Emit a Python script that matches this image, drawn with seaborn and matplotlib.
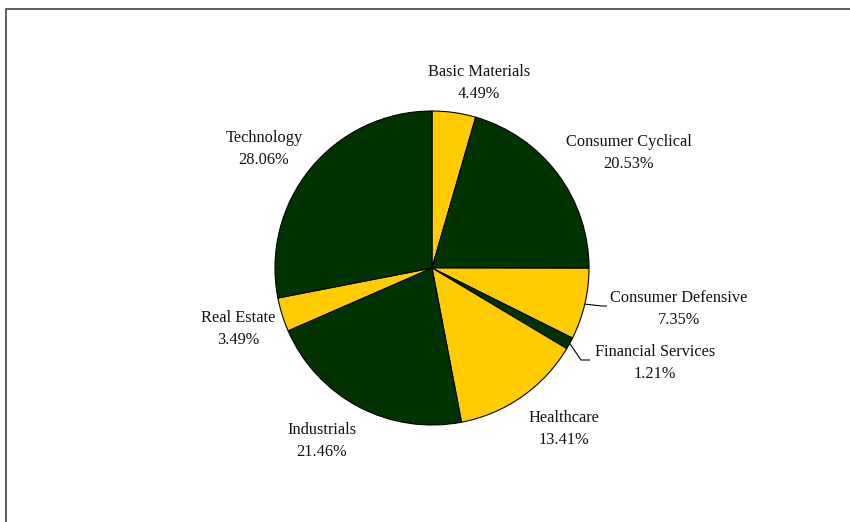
import matplotlib
matplotlib.use("Agg")
import matplotlib.pyplot as plt
import numpy as np
import seaborn as sns
from matplotlib.patches import Rectangle

# Sector weights (percent), clockwise from 12 o'clock
sectors = ["Basic Materials", "Consumer Cyclical", "Consumer Defensive",
           "Financial Services", "Healthcare", "Industrials",
           "Real Estate", "Technology"]
weights = [4.49, 20.53, 7.35, 1.21, 13.41, 21.46, 3.49, 28.06]

sns.set_theme(style="white")
plt.rcParams["font.family"] = ["Liberation Serif", "DejaVu Serif"]

gold, forest = "#FFCC00", "#003300"
colors = sns.color_palette([gold, forest] * 4)

W, H = 850, 522
fig = plt.figure(figsize=(W / 100, H / 100), dpi=100)
fig.patch.set_facecolor("white")
ax = fig.add_axes([0, 0, 1, 1])

cx, cy, R = 432, H - 268, 157
wedges, _ = ax.pie(weights, colors=colors, startangle=90, counterclock=False,
                   center=(cx, cy), radius=R, frame=False,
                   wedgeprops=dict(edgecolor="black", linewidth=0.8))

# pixel-like data space covering the whole figure
ax.set_xlim(0, W)
ax.set_ylim(0, H)
ax.set_aspect("equal")
ax.axis("off")

# chart-area border (runs past the right and bottom edges)
ax.add_patch(Rectangle((6.5, -20), W + 40, H - 8.5 + 20, fill=False,
                       edgecolor="#333333", linewidth=1.1, zorder=0))

# label block centres (pixel layout, measured from top-left)
label_xy = [(479, 83.5), (629, 153), (679, 308.5), (655, 363),
            (564, 429), (322, 440.5), (238, 329), (264, 148.5)]

for name, w, (lx, ly) in zip(sectors, weights, label_xy):
    ax.text(lx, H - ly, f"{name}\n{w:.2f}%", ha="center", va="center",
            multialignment="center", fontsize=11.8, color="#111111",
            linespacing=1.5)

# leader lines for the two narrow right-hand slices
leaders = {2: (602, 306, 607), 3: (581, 360, 590)}
for i, (kx, ky, ex) in leaders.items():
    wdg = wedges[i]
    mid = np.deg2rad((wdg.theta1 + wdg.theta2) / 2)
    sx, sy = cx + R * np.cos(mid), cy + R * np.sin(mid)
    ax.plot([sx, kx, ex], [sy, H - ky, H - ky], color="black", lw=0.8,
            solid_capstyle="butt")

fig.savefig("out.png", dpi=100, facecolor="white")
